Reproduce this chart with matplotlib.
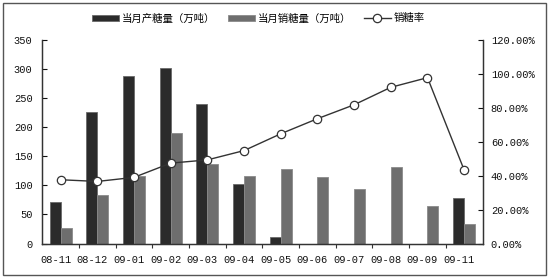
import matplotlib
matplotlib.use("Agg")
import matplotlib.pyplot as plt
import numpy as np
from matplotlib.ticker import FuncFormatter, FixedLocator
from matplotlib.transforms import ScaledTranslation
from matplotlib.patches import Rectangle

months = ["08-11", "08-12", "09-01", "09-02", "09-03", "09-04", "09-05",
          "09-06", "09-07", "09-08", "09-09", "09-11"]
production = [71, 227, 288, 302, 240, 102, 11.5, 0, 0, 0, 0, 78]
sales = [27, 83, 116, 190, 137, 116, 128, 114, 94, 132, 64, 33]
rate = [0.376, 0.366, 0.39, 0.474, 0.493, 0.548, 0.647, 0.736, 0.818, 0.921, 0.978, 0.433]

label_prod = "当月产糖量（万吨）"
label_sales = "当月销糖量（万吨）"
label_rate = "销糖率"

plt.rcParams['font.family'] = ['Liberation Mono', 'DejaVu Sans']

fig = plt.figure(figsize=(5.5, 2.79), dpi=100)
ax = fig.add_axes([0.0769, 0.1272, 0.8004, 0.7294])
ax2 = ax.twinx()

x = np.arange(len(months))
w = 0.3
b1 = ax.bar(x - 0.15, production, width=w, color="#2b2b2b", edgecolor="#6a6a6a",
            linewidth=0.6, label=label_prod, zorder=2)
b2 = ax.bar(x + 0.15, sales, width=w, color="#6e6e6e", edgecolor="#8a8a8a",
            linewidth=0.6, label=label_sales, zorder=2)
l1, = ax2.plot(x, rate, color="#333333", lw=1.0, marker="o", ms=6,
               mfc="white", mec="#333333", mew=0.9, label=label_rate)

ax.set_xlim(-0.5, len(months) - 0.5)
ax.set_ylim(0, 350)
ax.set_yticks(np.arange(0, 351, 50))
ax2.set_ylim(0, 1.2)
ax2.set_yticks(np.arange(0, 1.21, 0.2))
ax2.yaxis.set_major_formatter(FuncFormatter(lambda v, p: f"{v*100:.2f}%"))

ax.set_xticks(x)
ax.set_xticklabels(months)
ax.xaxis.set_minor_locator(FixedLocator(np.arange(0.5, len(months) - 0.5, 1.0)))
ax.tick_params(axis='x', which='major', length=0, pad=8.5, labelsize=7.5, colors="#111111")
ax.tick_params(axis='x', which='minor', length=3, direction='out', width=0.8, color="#333333")
ax.tick_params(axis='y', direction='in', length=3.5, pad=7, labelsize=7.5, width=0.8,
               colors="#111111")
ax2.tick_params(axis='y', direction='in', length=3.5, pad=6, labelsize=7.5, width=0.8,
                colors="#111111")

offset = ScaledTranslation(-5 / 100, 0, fig.dpi_scale_trans)
for lab in ax.get_xticklabels():
    lab.set_transform(lab.get_transform() + offset)

for a in (ax, ax2):
    a.spines['top'].set_visible(False)
    for s in ('left', 'right', 'bottom'):
        a.spines[s].set_color("#333333")
        a.spines[s].set_linewidth(0.9)

ax2.set_zorder(ax.get_zorder() + 1)
ax2.patch.set_visible(False)

leg = fig.legend([b1, b2, l1], [label_prod, label_sales, label_rate], loc='center',
                 bbox_to_anchor=(0.47, 0.934), ncol=3, frameon=False,
                 prop={'family': ['Noto Sans CJK SC', 'DejaVu Sans'], 'size': 7.5},
                 handlelength=2.6, handleheight=0.45, handletextpad=0.3,
                 columnspacing=1.2)

fig.patches.append(Rectangle((3 / 550, 4 / 279), 543 / 550, 272 / 279,
                             transform=fig.transFigure, fill=False,
                             edgecolor="#555555", linewidth=1.0))

fig.savefig("out.png", dpi=100)
